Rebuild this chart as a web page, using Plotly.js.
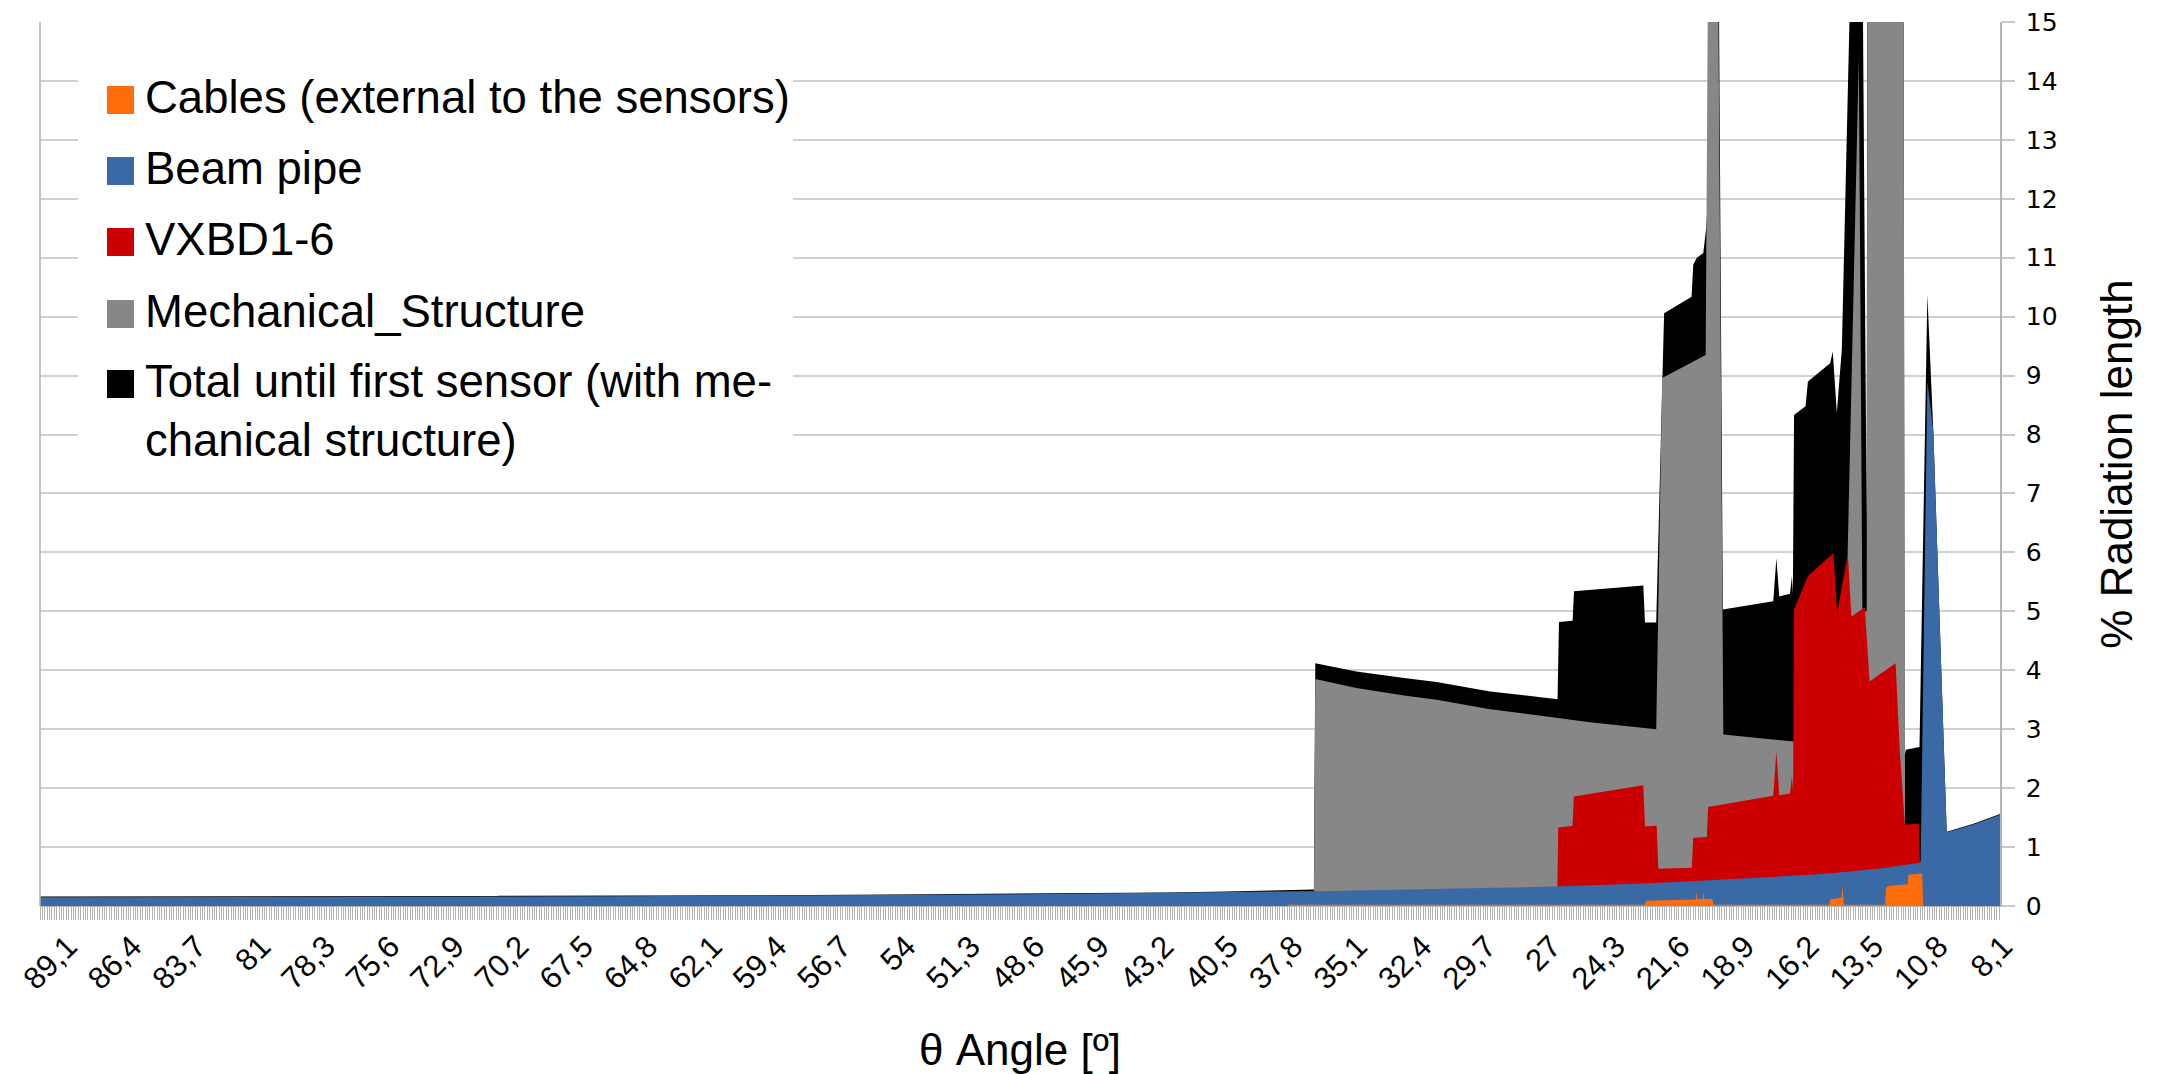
<!DOCTYPE html>
<html>
<head>
<meta charset="utf-8">
<script src="https://cdn.plot.ly/plotly-3.0.1.min.js"></script>
<style>
html,body{margin:0;padding:0;background:#ffffff;}
#chart{width:2162px;height:1074px;}
</style>
</head>
<body>
<div id="chart"></div>
<script>
// ---------------- DATA (θ in degrees, value in % radiation length) ----------------
const seriesNames = [
  "Cables (external to the sensors)",
  "Beam pipe",
  "VXBD1-6",
  "Mechanical_Structure",
  "Total until first sensor (with mechanical structure)"
];
const legendLabels = [
  "Cables (external to the sensors)",
  "Beam pipe",
  "VXBD1-6",
  "Mechanical_Structure",
  "Total until first sensor (with me-<br>chanical structure)"
];
const seriesColors = ["#ff6d0a", "#3a6aa6", "#cc0000", "#878787", "#000000"];

const cablesTheta = [89.1, 36.9, 36.85, 21.92, 21.88, 19.80, 19.76, 19.72, 19.50, 19.47, 19.43, 19.10, 19.05, 14.21, 14.17, 13.70, 13.65, 13.60, 11.87, 11.83, 11.75, 10.92, 10.89, 10.32, 10.27, 7.06];
const cablesVal   = [0,    0,    0.02,  0.02,  0.09,  0.11,  0.25,  0.12,  0.12,  0.24,  0.12,  0.12,  0.02,  0.02,  0.11,  0.14,  0.34,  0.02,  0.02,  0.30,  0.34,  0.37,  0.53,  0.55,  0,     0];

const beamTheta = [89.1, 80,   74,   70,   65,    60,   56,   52,   48,   45,   42,   40,   37,    35,    33,   30,   27,   25,   22,   20,   18,   16,   15,   14,   13,   12,   11,   10.43, 10.38, 10.10, 9.85, 9.29, 8.2,  7.06];
const beamVal   = [0.15, 0.15, 0.16, 0.16, 0.165, 0.17, 0.18, 0.19, 0.20, 0.21, 0.22, 0.23, 0.245, 0.255, 0.27, 0.29, 0.32, 0.34, 0.38, 0.42, 0.46, 0.50, 0.53, 0.56, 0.60, 0.64, 0.70, 0.73,  0.76,  8.90,  8.05, 1.25, 1.38, 1.55];

const vxbdTheta = [89.1, 25.60, 25.55, 24.95, 24.90, 21.99, 21.92, 21.43, 21.36, 19.96, 19.90, 19.33, 19.28, 16.55, 16.42, 16.30, 15.85, 15.77, 15.72, 15.68, 15.10, 14.03, 13.88, 13.43, 13.28, 12.72, 12.52, 11.43, 11.25, 11.04, 10.45, 10.40, 7.06];
const vxbdVal   = [0,    0,     1.33,  1.36,  1.86,  2.05,  1.35,  1.36,  0.63,  0.65,  1.16,  1.17,  1.68,  1.87,  2.63,  1.88,  1.91,  2.20,  1.95,  5.03,  5.60,  5.99,  4.97,  5.98,  4.91,  5.07,  3.81,  4.12,  2.60,  1.38,  1.40,  0,     0];

const mechTheta = [89.1, 35.78, 35.72, 34.0, 32.0, 30.64, 28.4, 25.55, 24.22, 21.45, 21.20, 19.38, 19.22, 18.93, 18.64, 15.70, 13.62, 12.97, 12.82, 12.64, 12.60, 11.12, 11.03, 10.45, 10.40, 7.06];
const mechVal   = [0,    0,     3.85,  3.70, 3.57, 3.50,  3.34, 3.19,  3.12,  3.00,  8.96,  9.35,  20,    20,    2.91,  2.79,  2.70,  14.4,  5.0,   5.0,   20,    20,    1.0,   1.0,   0,     0];

const totalTheta = [89.1, 75.6, 75.5, 70.0, 69.9,  60,   56.8,  52,   47.5, 45,   42,   40,   38,   36.9, 35.78, 35.72, 34.0, 32.0, 30.64, 28.4, 25.58, 25.52, 24.95, 24.89, 21.99, 21.92, 21.45, 21.12, 19.97, 19.90, 19.75, 19.48, 19.36, 19.28, 19.20, 18.93, 18.66, 16.55, 16.42, 16.30, 15.85, 15.77, 15.73, 15.68, 15.20, 15.10, 14.17, 14.06, 13.89, 13.68, 13.34, 13.30, 12.84, 12.80, 12.64, 12.60, 11.12, 11.05, 11.00, 10.43, 10.10, 9.85, 9.29, 8.2,  7.06];
const totalVal   = [0.16, 0.16, 0.17, 0.17, 0.175, 0.18, 0.185, 0.20, 0.21, 0.22, 0.23, 0.24, 0.26, 0.28, 0.28,  4.12,  3.98, 3.87, 3.80,  3.64, 3.51,  4.82,  4.84,  5.34,  5.44,  4.81,  4.81,  10.06, 10.34, 10.88, 11.00, 11.08, 11.50, 12.00, 22,    22,    5.03,  5.17,  5.90,  5.25,  5.30,  5.60,  5.30,  8.33,  8.48,  8.90,  9.21,  9.41,  8.37,  9.45,  15.4,  22,    22,    15.3,  6.5,   22,    22,    2.55,  2.65,  2.70,  10.37, 8.05, 1.26, 1.39, 1.56];

const tickValues = [89.1, 86.4, 83.7, 81, 78.3, 75.6, 72.9, 70.2, 67.5, 64.8, 62.1, 59.4, 56.7, 54, 51.3, 48.6, 45.9, 43.2, 40.5, 37.8, 35.1, 32.4, 29.7, 27, 24.3, 21.6, 18.9, 16.2, 13.5, 10.8, 8.1];
const tickLabels = ["89,1","86,4","83,7","81","78,3","75,6","72,9","70,2","67,5","64,8","62,1","59,4","56,7","54","51,3","48,6","45,9","43,2","40,5","37,8","35,1","32,4","29,7","27","24,3","21,6","18,9","16,2","13,5","10,8","8,1"];

// ---------------- TRACES (back to front) ----------------
const xs = [cablesTheta, beamTheta, vxbdTheta, mechTheta, totalTheta];
const ys = [cablesVal, beamVal, vxbdVal, mechVal, totalVal];
const drawOrder = [4, 3, 2, 1, 0];
const traces = drawOrder.map(i => ({
  type: "scatter",
  mode: "lines",
  x: xs[i],
  y: ys[i],
  name: seriesNames[i],
  fill: "tozeroy",
  fillcolor: seriesColors[i],
  line: {width: 0, color: seriesColors[i]},
  showlegend: false,
  hoverinfo: "x+y+name"
}));

// ---------------- LAYOUT ----------------
const W = 2162, H = 1074;
const L = 40, R = 2000, T = 22, B = 906;
const px = x => (x - L) / (R - L);
const py = y => (B - y) / (B - T);

const shapes = [
  {type: "line", xref: "paper", yref: "paper", x0: 0, x1: 0, y0: 0, y1: 1,
   line: {color: "#b3b3b3", width: 1.5}, layer: "above"},
  {type: "rect", xref: "paper", yref: "paper", x0: px(78), x1: px(793), y0: py(475), y1: py(40),
   fillcolor: "#ffffff", line: {width: 0}, layer: "above"}
];
const annotations = [];
const itemCenters = [100, 171, 242, 314, 384];
const legendOrder = [0, 1, 2, 3, 4];
legendOrder.forEach((i, k) => {
  const cy = itemCenters[k];
  shapes.push({type: "rect", xref: "paper", yref: "paper",
    x0: px(107), x1: px(134), y0: py(cy + 14), y1: py(cy - 14),
    fillcolor: seriesColors[i], line: {width: 0}, layer: "above"});
  annotations.push({xref: "paper", yref: "paper", x: px(143), y: py(cy - 30),
    xanchor: "left", yanchor: "top", align: "left", showarrow: false,
    text: legendLabels[i],
    font: {family: "Liberation Sans, Arial, sans-serif", size: 45.5, color: "#000000"}});
});

const layout = {
  width: W, height: H,
  paper_bgcolor: "#ffffff",
  plot_bgcolor: "#ffffff",
  margin: {l: L, r: W - R, t: T, b: H - B, pad: 0},
  showlegend: false,
  xaxis: {
    type: "linear",
    range: [89.1, 7.06],
    tickmode: "array",
    tickvals: tickValues,
    ticktext: tickLabels,
    tickangle: -45,
    ticks: "outside",
    ticklen: 13,
    tickwidth: 1,
    tickcolor: "#b3b3b3",
    ticklabelshift: -28,
    ticklabelstandoff: -4,
    tickfont: {family: "Liberation Sans, Arial, sans-serif", size: 31, color: "#000000"},
    minor: {dtick: 0.1, tick0: 89.1, ticks: "outside", ticklen: 13, tickwidth: 1, tickcolor: "#b3b3b3", showgrid: false},
    showgrid: false,
    zeroline: false,
    showline: true,
    linecolor: "#b3b3b3",
    linewidth: 1,
    automargin: false,
    title: {text: "θ Angle [º]", standoff: 58,
      font: {family: "Liberation Sans, Arial, sans-serif", size: 44, color: "#000000"}}
  },
  yaxis: {
    side: "right",
    range: [0, 15],
    dtick: 1,
    tick0: 0,
    ticks: "outside",
    ticklen: 13,
    tickwidth: 1.5,
    tickcolor: "#c8c8c8",
    ticklabelstandoff: 6,
    tickfont: {family: "DejaVu Sans, sans-serif", size: 25, color: "#000000"},
    showgrid: true,
    gridcolor: "#d0d0d0",
    gridwidth: 1.5,
    zeroline: false,
    showline: true,
    linecolor: "#b3b3b3",
    linewidth: 1.5,
    automargin: false,
    title: {text: "% Radiation length", standoff: 45,
      font: {family: "Liberation Sans, Arial, sans-serif", size: 44, color: "#000000"}}
  },
  shapes: shapes,
  annotations: annotations
};

Plotly.newPlot("chart", traces, layout, {displayModeBar: false, responsive: false});
</script>
</body>
</html>
